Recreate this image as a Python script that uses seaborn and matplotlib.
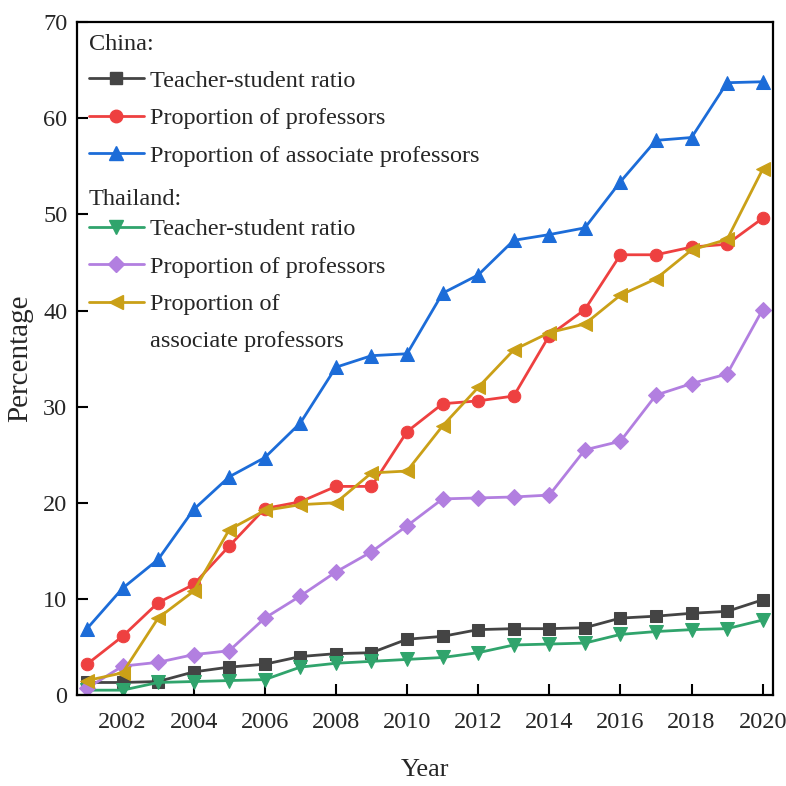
import numpy as np
import pandas as pd
import matplotlib
matplotlib.use("Agg")
import matplotlib.pyplot as plt
from matplotlib.lines import Line2D
import seaborn as sns

years = list(range(2001, 2021))
china_ts = [1.3, 1.3, 1.4, 2.4, 2.9, 3.2, 4.0, 4.3, 4.4, 5.8, 6.1, 6.8, 6.9, 6.9, 7.0, 8.0, 8.2, 8.5, 8.7, 9.9]
china_prof = [3.2, 6.1, 9.6, 11.5, 15.5, 19.4, 20.1, 21.7, 21.7, 27.4, 30.3, 30.6, 31.1, 37.4, 40.1, 45.8, 45.8, 46.6, 46.9, 49.6]
china_assoc = [6.9, 11.1, 14.1, 19.3, 22.7, 24.7, 28.3, 34.1, 35.3, 35.5, 41.8, 43.7, 47.3, 47.9, 48.6, 53.4, 57.7, 58.0, 63.7, 63.8]
thai_ts = [0.5, 0.5, 1.3, 1.4, 1.5, 1.6, 2.9, 3.3, 3.5, 3.7, 3.9, 4.4, 5.2, 5.3, 5.4, 6.3, 6.6, 6.8, 6.9, 7.8]
thai_prof = [0.7, 3.0, 3.4, 4.2, 4.6, 8.0, 10.3, 12.8, 14.9, 17.6, 20.4, 20.5, 20.6, 20.8, 25.5, 26.4, 31.2, 32.4, 33.4, 40.1]
thai_assoc = [1.5, 2.3, 8.0, 10.8, 17.2, 19.2, 19.8, 20.0, 23.1, 23.3, 28.0, 32.0, 35.9, 37.7, 38.6, 41.6, 43.3, 46.3, 47.4, 54.7]

series_labels = ["Teacher-student ratio", "Proportion of professors", "Proportion of associate professors",
                 "Teacher-student ratio", "Proportion of professors", "Proportion of associate professors"]
series_values = [china_ts, china_prof, china_assoc, thai_ts, thai_prof, thai_assoc]
colors = ["#444444", "#ee4040", "#1c6cd8", "#30a46c", "#b27fe0", "#caa017"]
markers = ["s", "o", "^", "v", "D", "<"]
msizes = [8, 9, 10, 10, 8, 10]

sns.set_style("white")
plt.rcParams["font.family"] = ["Liberation Serif", "DejaVu Serif"]

fig = plt.figure(figsize=(7.86, 7.86), dpi=100)
ax = fig.add_axes([0.098, 0.1158, 0.885, 0.856])

handles = []
for i, vals in enumerate(series_values):
    df = pd.DataFrame({"Year": years, "Value": vals})
    sns.lineplot(data=df, x="Year", y="Value", ax=ax, color=colors[i], marker=markers[i],
                 markersize=msizes[i], markeredgecolor=colors[i], linewidth=2.0, legend=False)
    h = Line2D([], [], color=colors[i], marker=markers[i], markersize=msizes[i],
               markeredgecolor=colors[i], linewidth=2.0)
    handles.append(h)

ax.set_xlim(2000.72, 2020.28)
ax.set_ylim(0, 70)
ax.set_xticks(range(2002, 2021, 2))
ax.set_yticks(range(0, 71, 10))
fs = 17.5
ax.tick_params(axis="both", direction="in", length=8, width=1.5, labelsize=fs, color="black",
               bottom=True, left=True, top=False, right=False)
ax.tick_params(axis="x", pad=12)
ax.tick_params(axis="y", pad=7)
for s in ax.spines.values():
    s.set_linewidth(1.6)
    s.set_color("black")
ax.set_xlabel("Year", fontsize=19, labelpad=19)
ax.set_ylabel("Percentage", fontsize=21, labelpad=7)
ax.grid(False)

blank = Line2D([], [], color="none")
common = dict(frameon=False, fontsize=fs, title_fontsize=fs, handlelength=2.25, handletextpad=0.25,
              labelspacing=0.63, borderpad=0, borderaxespad=0, alignment="left", loc="upper left")
leg1 = ax.legend(handles[:3], series_labels[:3], title="China:", bbox_to_anchor=(0.017, 0.983), **common)
ax.add_artist(leg1)
leg2 = ax.legend(handles[3:] + [blank], series_labels[3:5] + ["Proportion of", "associate professors"],
                 title="Thailand:", bbox_to_anchor=(0.017, 0.752), **common)
leg1._legend_box.sep = 11
leg2._legend_box.sep = 6

fig.savefig("out.png", dpi=100)
